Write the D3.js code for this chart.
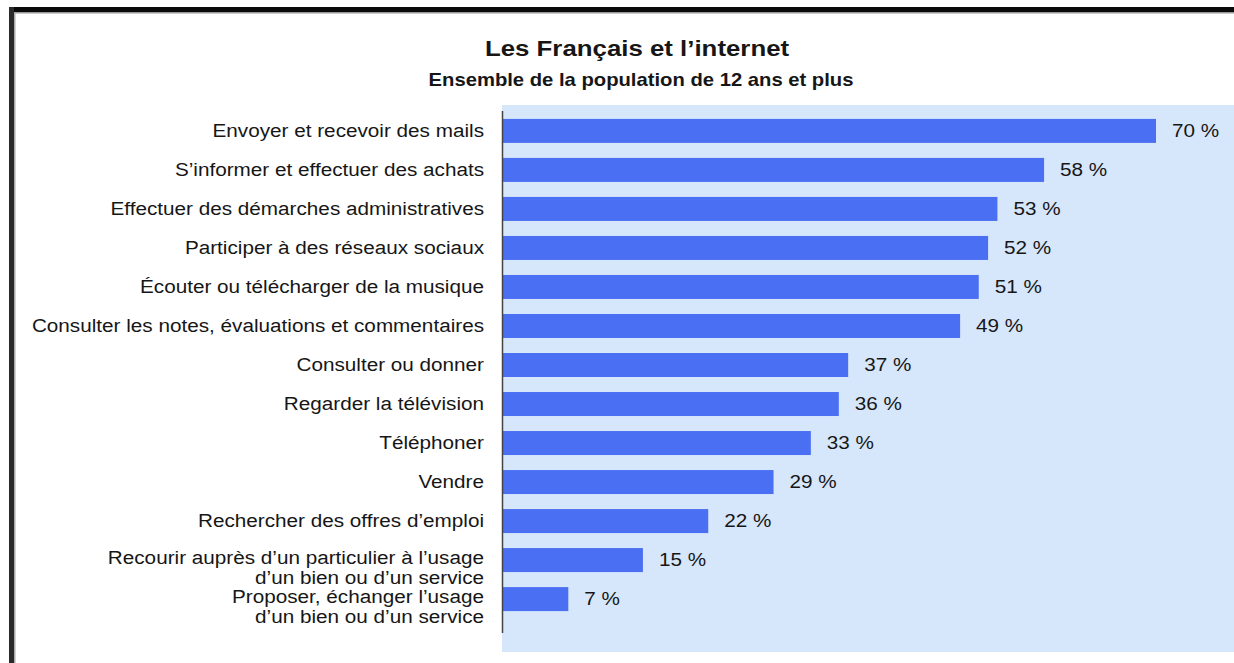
<!DOCTYPE html>
<html><head><meta charset="utf-8">
<script src="https://cdn.jsdelivr.net/npm/d3@7"></script>
<style>
html,body{margin:0;padding:0;background:#fff;}
svg{display:block;}
text{font-family:"Liberation Sans",Arial,sans-serif;fill:#161616;}
</style></head><body>
<svg id="c" width="1234" height="663"></svg>
<script>
const categories = [
  ["Envoyer et recevoir des mails"],
  ["S\u2019informer et effectuer des achats"],
  ["Effectuer des démarches administratives"],
  ["Participer à des réseaux sociaux"],
  ["Écouter ou télécharger de la musique"],
  ["Consulter les notes, évaluations et commentaires"],
  ["Consulter ou donner"],
  ["Regarder la télévision"],
  ["Téléphoner"],
  ["Vendre"],
  ["Rechercher des offres d\u2019emploi"],
  ["Recourir auprès d\u2019un particulier à l\u2019usage", "d\u2019un bien ou d\u2019un service"],
  ["Proposer, échanger l\u2019usage", "d\u2019un bien ou d\u2019un service"]
];
const values = [70, 58, 53, 52, 51, 49, 37, 36, 33, 29, 22, 15, 7];
const title = "Les Français et l\u2019internet";
const subtitle = "Ensemble de la population de 12 ans et plus";

const svg = d3.select("#c");
// frame
svg.append("rect").attr("x",10).attr("y",7).attr("width",1224).attr("height",5).attr("fill","#0a0a0a");
svg.append("rect").attr("x",10).attr("y",12).attr("width",1224).attr("height",1.5).attr("fill","#999");
svg.append("rect").attr("x",9).attr("y",7).attr("width",5).attr("height",656).attr("fill","#2a2a2a");
svg.append("rect").attr("x",14).attr("y",12).attr("width",1.5).attr("height",651).attr("fill","#aaa");

// plot background
svg.append("rect").attr("x",502).attr("y",105).attr("width",732).attr("height",547).attr("fill","#d6e6fb");

const x = d3.scaleLinear().domain([0,70]).range([503,1156]);
const idx = d3.range(values.length);
const y = d3.scaleBand().domain(idx).range([111.5, 618.5]).paddingInner(0.385).paddingOuter(0.19);

svg.append("g").selectAll("rect").data(idx).join("rect")
  .attr("x", x(0)).attr("y", i=>y(i)).attr("width", i=>x(values[i])-x(0))
  .attr("height", y.bandwidth()).attr("fill","#4b6ff3");

// axis line
svg.append("line").attr("x1",502.5).attr("x2",502.5).attr("y1",111).attr("y2",633)
  .attr("stroke","#444").attr("stroke-width",1.5);

const SX = 1.09;
// value labels
svg.append("g").selectAll("text").data(idx).join("text")
  .attr("transform", i=>`translate(${x(values[i])+16},${y(i)+y.bandwidth()/2}) scale(${SX},1)`)
  .attr("dy","0.3em").attr("font-size",19).text(i=>values[i]+" %");

// category labels
const cl = svg.append("g").selectAll("text").data(idx).join("text")
  .attr("transform", i=>`translate(484,${y(i)+y.bandwidth()/2}) scale(${SX},1)`)
  .attr("text-anchor","end").attr("font-size",19);
cl.each(function(i){
  const t = d3.select(this);
  categories[i].forEach((line,k)=>{
    t.append("tspan").attr("x",0).attr("dy", k===0 ? (categories[i].length>1 ? "0.22em" : "0.3em") : "19.5px").text(line);
  });
});

svg.append("text").attr("transform","translate(637,55.5) scale(1.174,1)").attr("text-anchor","middle")
  .attr("font-size",22).attr("font-weight","bold").text(title);
svg.append("text").attr("transform","translate(641,85.5) scale(1.157,1)").attr("text-anchor","middle")
  .attr("font-size",17.5).attr("font-weight","bold").text(subtitle);
</script>
</body></html>
